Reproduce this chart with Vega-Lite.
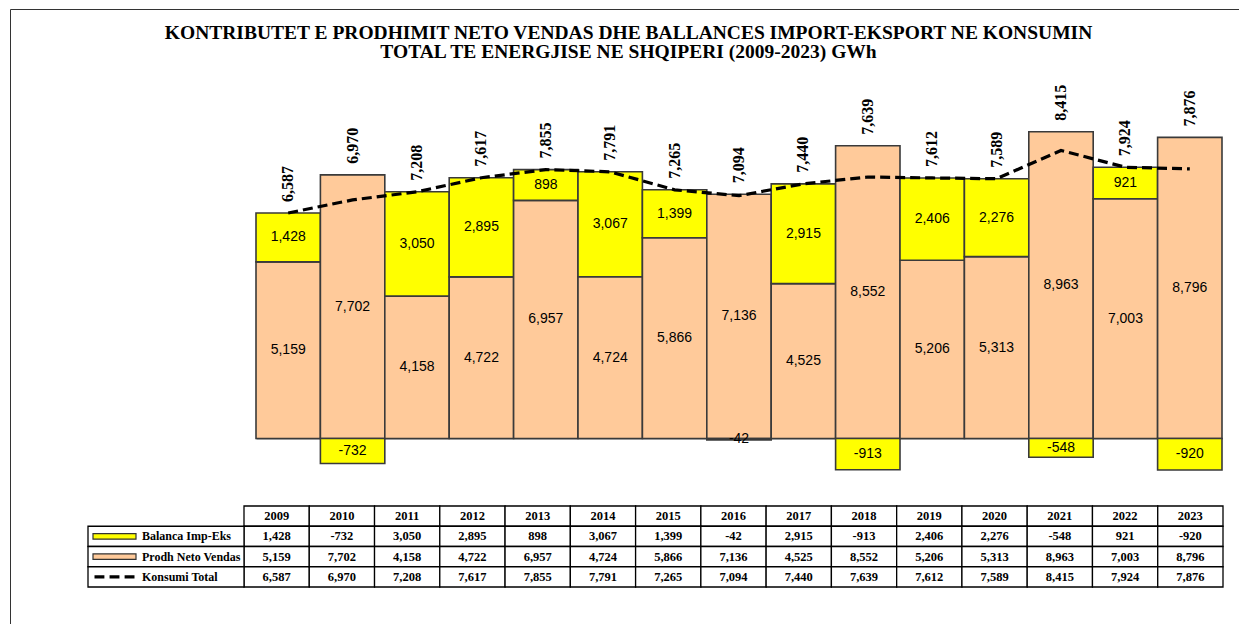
{
  "$schema": "https://vega.github.io/schema/vega-lite/v6.json",
  "width": 1229,
  "height": 615,
  "autosize": {"type": "none"},
  "padding": {"left": 10, "top": 9, "right": 0, "bottom": 0},
  "background": "white",
  "config": {
    "view": {"stroke": null},
    "locale": {"number": {"decimal": ".", "thousands": ",", "grouping": [3], "currency": ["$", ""], "minus": "-"}}
  },
  "title": {
    "text": ["KONTRIBUTET  E PRODHIMIT NETO VENDAS DHE BALLANCES  IMPORT-EKSPORT  NE KONSUMIN", "TOTAL TE ENERGJISE NE SHQIPERI (2009-2023) GWh"],
    "font": "Liberation Serif", "fontSize": 19.5, "fontWeight": "bold", "color": "#000",
    "anchor": "middle", "frame": "group", "orient": "top", "offset": 0, "dy": 68, "dx": 4,
    "baseline": "alphabetic", "lineHeight": 19
  },
  "data": {"values": [
    {"year": "2009", "bal": 1428, "prod": 5159, "kons": 6587},
    {"year": "2010", "bal": -732, "prod": 7702, "kons": 6970},
    {"year": "2011", "bal": 3050, "prod": 4158, "kons": 7208},
    {"year": "2012", "bal": 2895, "prod": 4722, "kons": 7617},
    {"year": "2013", "bal": 898, "prod": 6957, "kons": 7855},
    {"year": "2014", "bal": 3067, "prod": 4724, "kons": 7791},
    {"year": "2015", "bal": 1399, "prod": 5866, "kons": 7265},
    {"year": "2016", "bal": -42, "prod": 7136, "kons": 7094},
    {"year": "2017", "bal": 2915, "prod": 4525, "kons": 7440},
    {"year": "2018", "bal": -913, "prod": 8552, "kons": 7639},
    {"year": "2019", "bal": 2406, "prod": 5206, "kons": 7612},
    {"year": "2020", "bal": 2276, "prod": 5313, "kons": 7589},
    {"year": "2021", "bal": -548, "prod": 8963, "kons": 8415},
    {"year": "2022", "bal": 921, "prod": 7003, "kons": 7924},
    {"year": "2023", "bal": -920, "prod": 8796, "kons": 7876}
  ]},
  "resolve": {"scale": {"x": "independent", "y": "independent", "color": "independent"}},
  "layer": [
    {
      "mark": {"type": "point", "opacity": 0},
      "encoding": {
        "x": {"field": "year", "type": "ordinal", "scale": {"range": [0, 1245], "paddingInner": 0, "paddingOuter": 0},
              "axis": {"orient": "top", "labels": false, "ticks": false, "title": null, "grid": false, "domainColor": "#333", "domainWidth": 1, "offset": 0}},
        "y": {"field": "kons", "type": "quantitative", "scale": {"domain": [0, 10000], "range": [630, 0], "nice": false},
              "axis": {"orient": "left", "labels": false, "ticks": false, "title": null, "grid": false, "domainColor": "#333", "domainWidth": 1, "offset": 0}}
      }
    },
    {
      "layer": [
        {
          "transform": [
            {"fold": ["prod", "bal"], "as": ["key", "value"]},
            {"stack": "value", "groupby": ["year"], "sort": [{"field": "key", "order": "descending"}], "as": ["v0", "v1"]}
          ],
          "mark": {"type": "bar", "stroke": "#3a3a3a", "strokeWidth": 1.6},
          "encoding": {
            "x": {"field": "year", "type": "ordinal", "scale": {"range": [246, 1212], "paddingInner": 0, "paddingOuter": 0},
                  "axis": {"orient": "bottom", "offset": -185.5, "labels": false, "ticks": false, "title": null, "domainColor": "#a0a0a0", "domainWidth": 1.5, "grid": false}},
            "y": {"field": "v0", "type": "quantitative", "scale": {"domain": [-1000, 10000], "range": [463.73, 87.2], "nice": false, "zero": false}, "axis": null},
            "y2": {"field": "v1"},
            "color": {"field": "key", "type": "nominal", "scale": {"domain": ["bal", "prod"], "range": ["#FFFF00", "#FFCA9A"]}, "legend": null}
          }
        },
        {
          "transform": [
            {"fold": ["prod", "bal"], "as": ["key", "value"]},
            {"stack": "value", "groupby": ["year"], "sort": [{"field": "key", "order": "descending"}], "as": ["v0", "v1"]},
            {"fold": ["v0", "v1"], "as": ["end", "pos"]},
            {"aggregate": [{"op": "mean", "field": "pos", "as": "mid"}], "groupby": ["year", "key", "value"]}
          ],
          "mark": {"type": "text", "font": "Liberation Sans", "fontSize": 14, "color": "#000", "baseline": "middle"},
          "encoding": {
            "x": {"field": "year", "type": "ordinal"},
            "y": {"field": "mid", "type": "quantitative"},
            "text": {"field": "value", "type": "quantitative", "format": ","}
          }
        },
        {
          "mark": {"type": "line", "color": "#000", "strokeWidth": 3.2, "strokeDash": [10, 5]},
          "encoding": {
            "x": {"field": "year", "type": "ordinal"},
            "y": {"field": "kons", "type": "quantitative"}
          }
        },
        {
          "transform": [
            {"fold": ["prod", "bal"], "as": ["key", "value"]},
            {"stack": "value", "groupby": ["year"], "sort": [{"field": "key", "order": "descending"}], "as": ["v0", "v1"]},
            {"aggregate": [{"op": "max", "field": "v1", "as": "top"}, {"op": "max", "field": "kons", "as": "kons"}], "groupby": ["year"]}
          ],
          "mark": {"type": "text", "angle": 270, "align": "left", "baseline": "middle", "dx": 11, "font": "Liberation Serif", "fontSize": 16, "fontWeight": "bold", "color": "#000"},
          "encoding": {
            "x": {"field": "year", "type": "ordinal"},
            "y": {"field": "top", "type": "quantitative"},
            "text": {"field": "kons", "type": "quantitative", "format": ","}
          }
        }
      ]
    },
    {
      "layer": [
        {
          "mark": {"type": "rect", "fill": "white", "stroke": "#000", "strokeWidth": 1.3},
          "encoding": {
            "x": {"field": "year", "type": "ordinal", "scale": {"range": [234, 1213], "paddingInner": 0, "paddingOuter": 0}, "axis": null},
            "y": {"datum": "hdr", "type": "ordinal", "scale": {"domain": ["hdr", "bal", "prod", "kons"], "range": [497, 578], "paddingInner": 0, "paddingOuter": 0}, "axis": null}
          }
        },
        {
          "mark": {"type": "text", "font": "Liberation Serif", "fontSize": 12.5, "fontWeight": "bold", "color": "#000", "baseline": "middle"},
          "encoding": {
            "x": {"field": "year", "type": "ordinal"},
            "y": {"datum": "hdr", "type": "ordinal"},
            "text": {"field": "year", "type": "nominal"}
          }
        },
        {
          "transform": [{"fold": ["bal", "prod", "kons"], "as": ["key", "value"]}],
          "mark": {"type": "rect", "fill": "white", "stroke": "#000", "strokeWidth": 1.3},
          "encoding": {
            "x": {"field": "year", "type": "ordinal"},
            "y": {"field": "key", "type": "ordinal"}
          }
        },
        {
          "transform": [{"fold": ["bal", "prod", "kons"], "as": ["key", "value"]}],
          "mark": {"type": "text", "font": "Liberation Serif", "fontSize": 12.5, "fontWeight": "bold", "color": "#000", "baseline": "middle"},
          "encoding": {
            "x": {"field": "year", "type": "ordinal"},
            "y": {"field": "key", "type": "ordinal"},
            "text": {"field": "value", "type": "quantitative", "format": ","}
          }
        }
      ]
    },
    {
      "data": {"values": [
        {"key": "bal", "label": "Balanca Imp-Eks"},
        {"key": "prod", "label": "Prodh Neto Vendas"},
        {"key": "kons", "label": "Konsumi Total"}
      ]},
      "layer": [
        {
          "mark": {"type": "rect", "fill": "white", "stroke": "#000", "strokeWidth": 1.3},
          "encoding": {
            "x": {"datum": "lab", "type": "ordinal", "scale": {"domain": ["lab"], "range": [78, 234], "paddingInner": 0, "paddingOuter": 0}, "axis": null},
            "y": {"field": "key", "type": "ordinal", "scale": {"domain": ["bal", "prod", "kons"], "range": [517.25, 578], "paddingInner": 0, "paddingOuter": 0}, "axis": null}
          }
        },
        {
          "transform": [{"filter": "datum.key !== 'kons'"}],
          "mark": {"type": "point", "shape": "M-1,-0.13H1V0.13H-1Z", "size": 1849, "filled": true, "opacity": 1, "stroke": "#333", "strokeWidth": 1.2, "xOffset": -51.5},
          "encoding": {
            "x": {"datum": "lab", "type": "ordinal"},
            "y": {"field": "key", "type": "ordinal"},
            "color": {"field": "key", "type": "nominal", "scale": {"domain": ["bal", "prod"], "range": ["#FFFF00", "#FFCA9A"]}, "legend": null}
          }
        },
        {
          "transform": [{"filter": "datum.key === 'kons'"}],
          "mark": {"type": "point", "shape": "M-0.93,-0.075H-0.47V0.075H-0.93Z M-0.23,-0.075H0.23V0.075H-0.23Z M0.47,-0.075H0.93V0.075H0.47Z", "size": 1849, "filled": true, "opacity": 1, "color": "#000", "xOffset": -51.5},
          "encoding": {
            "x": {"datum": "lab", "type": "ordinal"},
            "y": {"field": "key", "type": "ordinal"}
          }
        },
        {
          "mark": {"type": "text", "align": "left", "dx": -24, "baseline": "middle", "font": "Liberation Serif", "fontSize": 12, "fontWeight": "bold", "color": "#000"},
          "encoding": {
            "x": {"datum": "lab", "type": "ordinal"},
            "y": {"field": "key", "type": "ordinal"},
            "text": {"field": "label", "type": "nominal"}
          }
        }
      ]
    }
  ]
}
